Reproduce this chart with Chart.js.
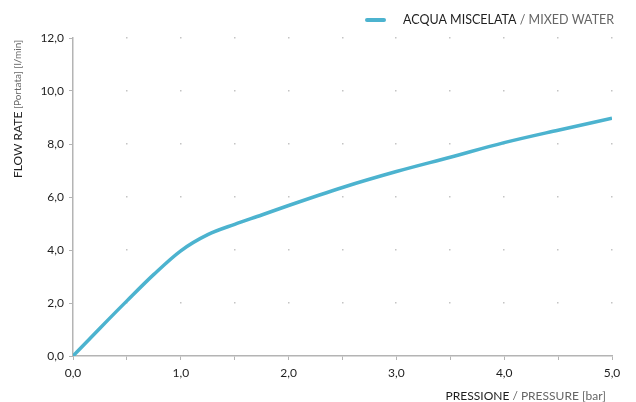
<!DOCTYPE html>
<html>
<head>
<meta charset="utf-8">
<script src="https://cdn.jsdelivr.net/npm/chart.js@4.4.1/dist/chart.umd.min.js"></script>
<style>
  html, body { margin: 0; padding: 0; background: #fff; }
  .wrap { position: relative; width: 636px; height: 402px; }
</style>
</head>
<body>
<div class="wrap"><canvas id="c"></canvas></div>
<script>
// Flow rate vs pressure, mixed water
const pressure = [0, 0.25, 0.5, 0.75, 1.0, 1.25, 1.5, 1.75, 2.0, 2.5, 3.0, 3.5, 4.0, 4.5, 5.0];
const flowRate = [0, 1.05, 2.08, 3.08, 3.97, 4.58, 4.97, 5.32, 5.68, 6.36, 6.96, 7.5, 8.05, 8.52, 8.97];
const seriesName = ['ACQUA MISCELATA', ' / MIXED WATER'];
const xTitle = ['PRESSIONE', ' / PRESSURE [bar]'];
const yTitle = ['FLOW RATE', ' [Portata] [l/min]'];

const FONT = 'Lato, "Noto Sans", sans-serif';
const DARK = '#1e1e1e';
const GREY = '#666';
const AXIS = '#b4b4b4';
const LINE = '#4cb3cf';

function fmt(v) { return v.toFixed(1).replace('.', ','); }

// draws text made of a dark part and a grey part
function twoTone(ctx, parts, x, y, sizes) {
    ctx.font = sizes[0] + 'px ' + FONT;
    const w0 = ctx.measureText(parts[0]).width;
    ctx.font = sizes[1] + 'px ' + FONT;
    const w1 = ctx.measureText(parts[1]).width;
    return { w0: w0, w1: w1, draw: function (left) {
        ctx.textBaseline = 'middle';
        ctx.textAlign = 'left';
        ctx.font = sizes[0] + 'px ' + FONT;
        ctx.fillStyle = DARK;
        ctx.fillText(parts[0], left, y);
        ctx.font = sizes[1] + 'px ' + FONT;
        ctx.fillStyle = GREY;
        ctx.fillText(parts[1], left + w0, y);
    } };
}

const decor = {
    id: 'decor',
    beforeDatasetsDraw: function (chart) {
        const ctx = chart.ctx, xs = chart.scales.x, ys = chart.scales.y;
        ctx.save();
        ctx.fillStyle = '#c4c4c4';
        xs.ticks.forEach(function (tx) {
            if (tx.value === 0) return;
            ys.ticks.forEach(function (ty) {
                if (ty.value === 0) return;
                const px = xs.getPixelForValue(tx.value);
                const py = ys.getPixelForValue(ty.value);
                ctx.fillRect(Math.round(px) - 1, Math.round(py) - 1, 1.5, 1.5);
            });
        });
        ctx.restore();
    },
    afterDraw: function (chart) {
        const ctx = chart.ctx, area = chart.chartArea;
        ctx.save();
        // legend
        ctx.strokeStyle = LINE;
        ctx.lineWidth = 4;
        ctx.lineCap = 'round';
        ctx.beginPath();
        ctx.moveTo(367, 20);
        ctx.lineTo(384, 20);
        ctx.stroke();
        const lg = twoTone(ctx, seriesName, 0, 20, [12.5, 12.5]);
        lg.draw(403);
        // x title, right aligned
        const xt = twoTone(ctx, xTitle, 0, 396, [12, 12]);
        xt.draw(606 - xt.w0 - xt.w1);
        // y title, rotated
        ctx.translate(18, 0);
        ctx.rotate(-Math.PI / 2);
        const yt = twoTone(ctx, yTitle, 0, 0, [12, 10]);
        yt.draw(-area.top - 2 - yt.w0 - yt.w1);
        ctx.restore();
    }
};

new Chart(document.getElementById('c'), {
    type: 'line',
    data: {
        datasets: [{
            label: seriesName.join(''),
            data: pressure.map(function (p, i) { return { x: p, y: flowRate[i] }; }),
            borderColor: LINE,
            borderWidth: 3.5,
            pointRadius: 0,
            cubicInterpolationMode: 'monotone',
            fill: false
        }]
    },
    options: {
        responsive: true,
        maintainAspectRatio: false,
        animation: false,
        layout: { padding: { top: 38, right: 24, left: 0, bottom: 0 } },
        plugins: { legend: { display: false }, tooltip: { enabled: false } },
        scales: {
            x: {
                type: 'linear', min: 0, max: 5,
                afterFit: function (s) { s.height = 46; },
                border: { color: AXIS, width: 1.5 },
                grid: { drawOnChartArea: false, color: AXIS, tickLength: 4 },
                ticks: {
                    stepSize: 0.5, padding: 6, color: DARK, maxRotation: 0, autoSkip: false,
                    font: { family: FONT, size: 12 },
                    callback: function (v) { return Number.isInteger(v) ? fmt(v) : ''; }
                }
            },
            y: {
                min: 0, max: 12,
                afterFit: function (s) { s.width = 73; },
                border: { color: AXIS, width: 1.5 },
                grid: { drawOnChartArea: false, color: AXIS, tickLength: 4 },
                ticks: {
                    stepSize: 2, padding: 5, color: DARK,
                    font: { family: FONT, size: 12 },
                    callback: function (v) { return fmt(v); }
                }
            }
        }
    },
    plugins: [decor]
});
</script>
</body>
</html>
